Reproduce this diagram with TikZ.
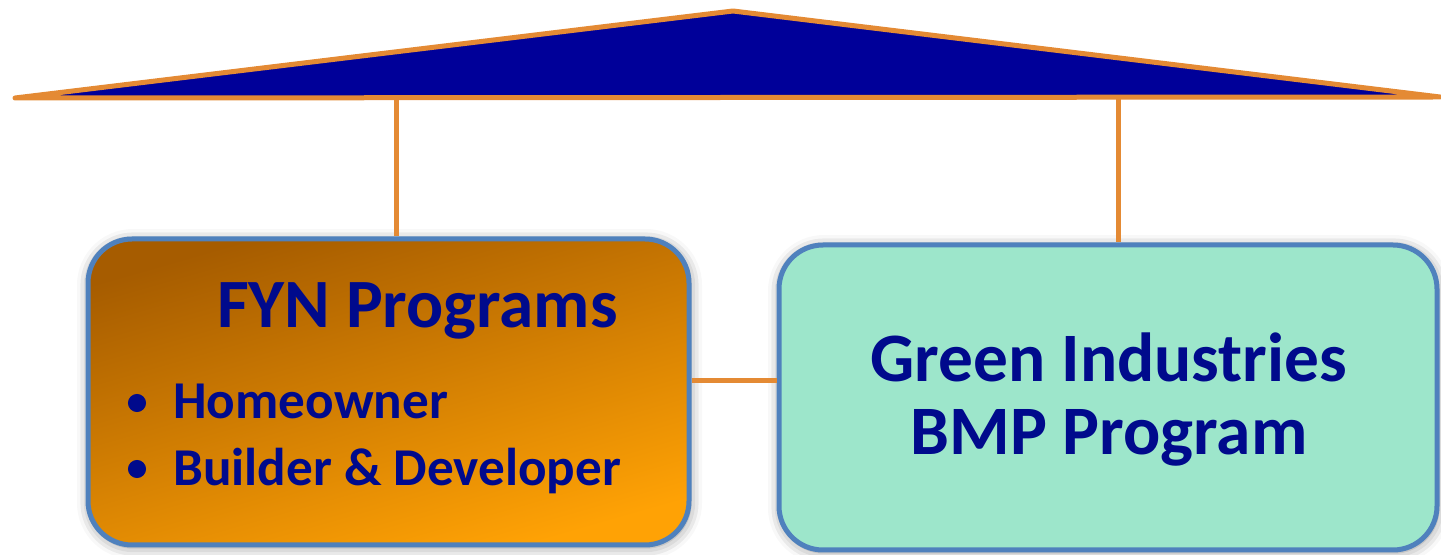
\documentclass[tikz,border=0pt]{standalone}
\usepackage{fontspec}
\setmainfont{Carlito}
\usetikzlibrary{shadows.blur}
\definecolor{roofblue}{RGB}{0,0,153}
\definecolor{linkorange}{RGB}{228,138,52}
\definecolor{edgeblue}{RGB}{79,129,189}
\definecolor{textblue}{RGB}{0,10,140}
\definecolor{mint}{RGB}{157,230,203}
\definecolor{rustdark}{RGB}{166,92,0}
\definecolor{rustmid}{RGB}{220,126,0}
\definecolor{rustlight}{RGB}{255,162,5}

\begin{document}
\begin{tikzpicture}[x=0.5pt,y=-0.5pt,
  link/.style={draw=linkorange,line width=2.5pt},
  panel/.style={draw=edgeblue,line width=2.5pt,rounded corners=22pt,
    blur shadow={shadow xshift=0.5pt,shadow yshift=-1pt,shadow blur radius=6pt,shadow opacity=45}},
  label/.style={text=textblue,font=\bfseries,inner sep=0pt}]
\useasboundingbox (0,0) rectangle (1441,555);

\filldraw[fill=roofblue,draw=linkorange,line width=2.5pt,line join=round,line cap=round]
  (15,98) -- (733,11) -- (1440,97) -- cycle;
\coordinate (dropL) at (396,97);
\coordinate (dropR) at (1118,97);

\node[panel,minimum width=300.5pt,minimum height=153pt,
  top color=rustdark,middle color=rustmid,bottom color=rustlight,shading angle=16] (fyn) at (388.5,392) {};
\node[panel,fill=mint,minimum width=329pt,minimum height=152.5pt] (gi) at (1108,397.5) {};

\draw[link] (dropL) -- (dropL |- fyn.north);
\draw[link] (dropR) -- (dropR |- gi.north);
\draw[link] (fyn.east |- 0,381) -- (gi.west |- 0,381);

\node[label,anchor=base,font=\fontsize{34.6}{36}\bfseries] (fynhead) at (417.5,328) {FYN Programs};
\filldraw[textblue] (137,403) circle (4.3pt);
\filldraw[textblue] (137,469) circle (4.3pt);
\node[label,anchor=base west,font=\fontsize{26.6}{30}\bfseries] (home) at (173,419) {Homeowner};
\node[label,anchor=base west,font=\fontsize{26.6}{30}\bfseries] (build) at (173,486) {Builder \& Developer};

\node[label,anchor=base,font=\fontsize{34.7}{36}\bfseries] (gione) at (1109,382) {Green Industries};
\node[label,anchor=base,font=\fontsize{34.7}{36}\bfseries] (gitwo) at (1109,455) {BMP Program};

\end{tikzpicture}
\end{document}
